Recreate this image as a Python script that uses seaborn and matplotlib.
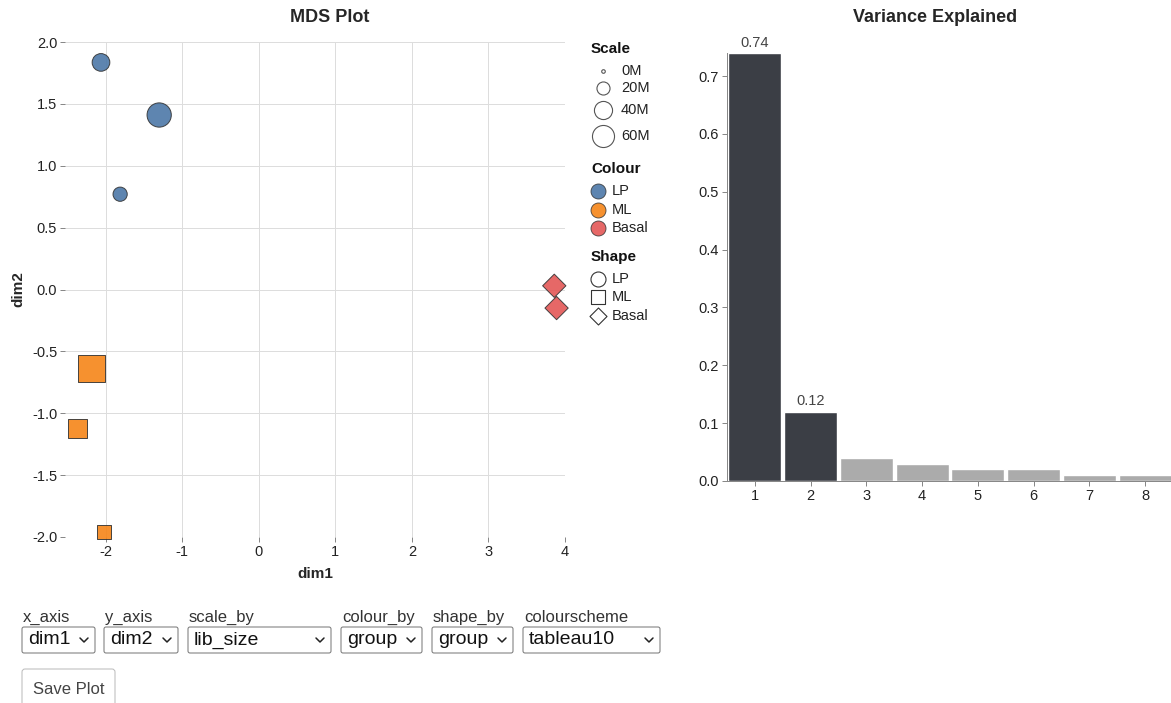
import numpy as np
import pandas as pd
import matplotlib.pyplot as plt
from matplotlib.patches import FancyBboxPatch
import seaborn as sns

# MDS coordinates
lp_dim1 = [-2.06, -1.30, -1.81]
lp_dim2 = [1.835, 1.41, 0.77]
ml_dim1 = [-2.18, -2.37, -2.02]
ml_dim2 = [-0.64, -1.12, -1.96]
basal_dim1 = [3.86, 3.89]
basal_dim2 = [0.03, -0.15]
# library sizes (millions)
lp_size = [38, 73, 24]
ml_size = [119, 57, 31]
basal_size = [86, 86]

groups = ["LP", "ML", "Basal"]
group_colors = ["#4c78a8", "#f58518", "#e45756"]
scale_ticks = [0, 20, 40, 60]

components = ["1", "2", "3", "4", "5", "6", "7", "8"]
variance = [0.74, 0.12, 0.04, 0.03, 0.02, 0.02, 0.01, 0.01]
bar_colors = ["#3b3e45", "#3b3e45", "#ababab", "#ababab", "#ababab", "#ababab", "#ababab", "#ababab"]

widget_labels = ["x_axis", "y_axis", "scale_by", "colour_by", "shape_by", "colourscheme"]
widget_values = ["dim1", "dim2", "lib_size", "group", "group", "tableau10"]

df = pd.DataFrame({
    "dim1": lp_dim1 + ml_dim1 + basal_dim1,
    "dim2": lp_dim2 + ml_dim2 + basal_dim2,
    "lib_size": lp_size + ml_size + basal_size,
    "group": ["LP"] * 3 + ["ML"] * 3 + ["Basal"] * 2,
})

W, H = 1171, 703
PT = 0.72  # points per pixel at dpi 100


def area_px(m):
    return 10 + 6.2 * np.asarray(m, dtype=float)


def mpl_s(m, marker):
    a = area_px(m)
    if marker == "o":
        d = 2 * np.sqrt(a / np.pi)
        return (PT * d) ** 2
    if marker == "s":
        return (PT * np.sqrt(a)) ** 2
    return (PT * np.sqrt(a)) ** 2 / 2  # diamond


sns.set_style("white")
plt.rcParams["font.family"] = ["Liberation Sans", "DejaVu Sans"]

fig = plt.figure(figsize=(W / 100, H / 100), dpi=100)


def frac(l, t, r, b):
    return [l / W, 1 - b / H, (r - l) / W, (b - t) / H]


# ---------------- MDS plot
ax = fig.add_axes(frac(65, 42, 565, 537))
markers = {"LP": "o", "ML": "s", "Basal": "D"}
for g, c in zip(groups, group_colors):
    sub = df[df["group"] == g]
    sns.scatterplot(data=sub, x="dim1", y="dim2", color=c, marker=markers[g],
                    s=mpl_s(sub["lib_size"], markers[g]), edgecolor="#333333",
                    linewidth=0.7, alpha=0.9, legend=False, clip_on=False, ax=ax, zorder=3)
ax.set_xlim(-2.53, 4.0)
ax.set_ylim(-2.0, 2.0)
ax.set_xticks(range(-2, 5))
ax.set_yticks(np.arange(-2.0, 2.01, 0.5))
ax.set_yticklabels([f"{v:.1f}".replace("−", "-") for v in np.arange(-2.0, 2.01, 0.5)])
ax.set_xticklabels([str(v) for v in range(-2, 5)])
ax.grid(True, color="#dddddd", linewidth=1 * PT)
for s in ax.spines.values():
    s.set_visible(False)
ax.tick_params(length=5 * PT, width=1 * PT, color="#888888", labelsize=10.5, pad=2,
               labelcolor="#222222", left=True, bottom=True)
ax.set_xlabel("")
ax.set_ylabel("")
ax.set_axisbelow(True)

# ---------------- Variance plot
ax2 = fig.add_axes(frac(727, 53, 1173, 481))
sns.barplot(x=components, y=variance, hue=components, palette=bar_colors,
            legend=False, width=0.95, saturation=1, ax=ax2)
ax2.set_xlim(-0.5, 7.5)
ax2.set_ylim(0, 0.74)
ax2.set_yticks(np.arange(0, 0.71, 0.1))
ax2.set_yticklabels([f"{v:.1f}" for v in np.arange(0, 0.71, 0.1)])
for s in ["top", "right"]:
    ax2.spines[s].set_visible(False)
for s in ["left", "bottom"]:
    ax2.spines[s].set_color("#888888")
    ax2.spines[s].set_linewidth(1 * PT)
ax2.tick_params(length=5 * PT, width=1 * PT, color="#888888", labelsize=10.5, pad=2,
                labelcolor="#222222", left=True, bottom=True)
for i in range(2):
    ax2.text(i, variance[i] + 0.006, f"{variance[i]:.2f}", ha="center", va="bottom",
             fontsize=10.5, color="#444444")
ax2.set_xlabel("")
ax2.set_ylabel("")

# ---------------- titles
fig.text(330 / W, 1 - 18 / H, "MDS Plot", ha="center", va="center", fontsize=13, fontweight="bold")
fig.text(935 / W, 1 - 18 / H, "Variance Explained", ha="center", va="center", fontsize=13, fontweight="bold")
fig.text(315 / W, 1 - 574 / H, "dim1", ha="center", va="center", fontsize=11, fontweight="bold")
fig.text(18 / W, 1 - 289 / H, "dim2", ha="center", va="center", fontsize=11, fontweight="bold", rotation=90)

# ---------------- overlay for legends and widgets (pixel coordinates)
ov = fig.add_axes([0, 0, 1, 1])
ov.set_xlim(0, W)
ov.set_ylim(H, 0)
ov.axis("off")
ov.patch.set_visible(False)

legend_title_kw = dict(fontsize=11, fontweight="bold", va="center", ha="left", color="#111111")
legend_lab_kw = dict(fontsize=10.5, va="center", ha="left", color="#222222")

ov.text(591, 49, "Scale", **legend_title_kw)
scale_y = [71, 88, 110, 136]
for m, y in zip(scale_ticks, scale_y):
    ov.scatter([603], [y], s=mpl_s([m], "o"), facecolor="white", edgecolor="#555555", linewidth=0.8)
    ov.text(621, y, f"{m}M", **legend_lab_kw)

ov.text(591, 169, "Colour", **legend_title_kw)
for g, c, y in zip(groups, group_colors, [191, 210, 228]):
    ov.scatter([598], [y], s=(15 * PT) ** 2, color=c, edgecolor="#333333", linewidth=0.6, alpha=0.9)
    ov.text(612, y, g, **legend_lab_kw)

ov.text(591, 257, "Shape", **legend_title_kw)
shape_s = {"o": (15 * PT) ** 2, "s": (14 * PT) ** 2, "D": (17 * PT) ** 2 / 2}
for g, y in zip(groups, [279, 297, 316]):
    mk = markers[g]
    ov.scatter([598], [y], s=shape_s[mk], marker=mk, facecolor="white", edgecolor="#333333", linewidth=0.8)
    ov.text(612, y, g, **legend_lab_kw)

# widgets
box_left = [22, 104, 188, 341, 432, 523]
box_right = [95, 178, 331, 422, 513, 660]
widget_font = ["Liberation Sans Narrow", "Liberation Sans", "DejaVu Sans"]
for lab, val, l, r in zip(widget_labels, widget_values, box_left, box_right):
    ov.text(l + 1, 617, lab, fontsize=12, va="center", ha="left", color="#333333", family=widget_font)
    ov.add_patch(FancyBboxPatch((l, 627), r - l, 26, boxstyle="round,pad=0,rounding_size=2",
                                facecolor="white", edgecolor="#767676", linewidth=1 * PT))
    ov.text(l + 6, 640, val, fontsize=14, va="center", ha="left", color="#111111", family=widget_font)
    cx = r - 11
    ov.plot([cx - 4, cx, cx + 4], [638, 642, 638], color="#222222", linewidth=1.1, solid_capstyle="round")

ov.add_patch(FancyBboxPatch((22, 669), 93, 45, boxstyle="round,pad=0,rounding_size=3",
                            facecolor="white", edgecolor="#bbbbbb", linewidth=1 * PT, clip_on=False))
ov.text(68.5, 690, "Save Plot", fontsize=12, va="center", ha="center", color="#444444", family=widget_font)

fig.savefig("out.png", dpi=100)
